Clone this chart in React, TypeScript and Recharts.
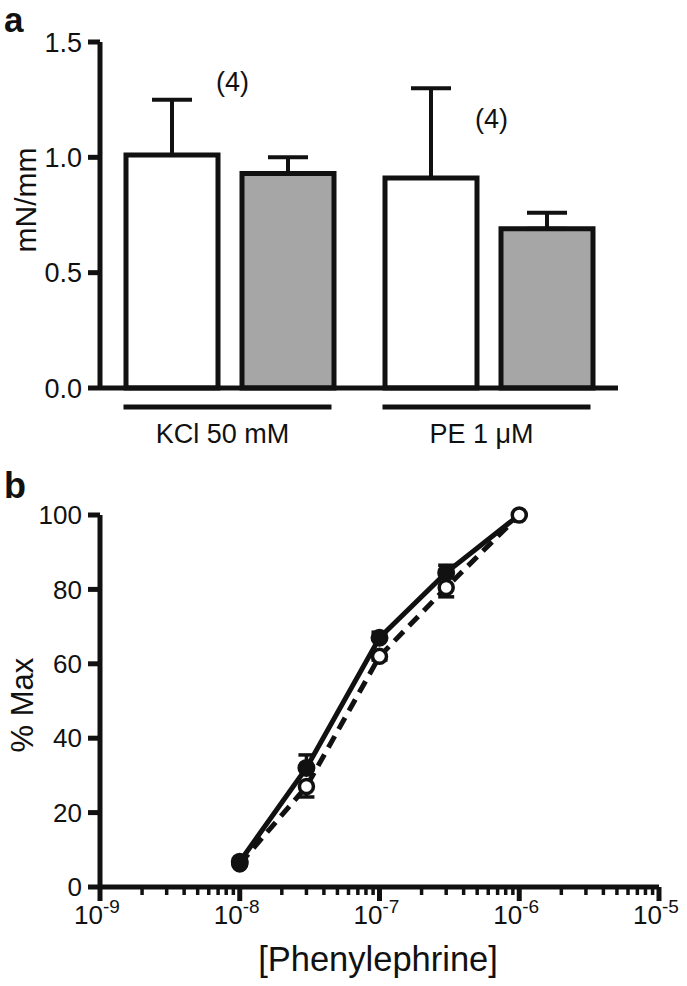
import React from 'react';
import {
  BarChart, Bar, XAxis, YAxis, ErrorBar, ReferenceDot,
  LineChart, Line,
} from 'recharts';

const FONT = '"Liberation Sans", Arial, Helvetica, sans-serif';
const INK = '#111';
const AXIS_W = 5;

// panel a: developed tension, control (open) vs treated (grey)
const groups = ['KCl 50 mM', 'PE 1 μM'];
const controlMean = [1.01, 0.91];
const controlSem = [0.24, 0.39];
const treatedMean = [0.93, 0.69];
const treatedSem = [0.07, 0.07];
const nLabels = ['(4)', '(4)'];
const nLabelY = [1.33, 1.17];
const forceTicks = [0, 0.5, 1.0, 1.5];

// panel b: phenylephrine concentration-response
const concentrations = [1e-8, 3e-8, 1e-7, 3e-7, 1e-6];
const filledMean = [6.8, 32, 67, 84.5, 100];
const filledSem = [0, 3.5, 1.5, 2, 0];
const openMean = [6.2, 27, 62, 80.5, 100];
const openSem = [0, 2.8, 1, 2.5, 0];
const pctTicks = [0, 20, 40, 60, 80, 100];
const decades = [1e-9, 1e-8, 1e-7, 1e-6, 1e-5];
const decadeExponents = ['-9', '-8', '-7', '-6', '-5'];
const minorSteps = [2, 3, 4, 5, 6, 7, 8, 9];

const barData = groups.map((g, i) => ({
  group: g,
  control: controlMean[i],
  controlErr: [0, controlSem[i]],
  treated: treatedMean[i],
  treatedErr: [0, treatedSem[i]],
}));

const filledData = concentrations.map((c, i) => ({ conc: c, value: filledMean[i], err: [0, filledSem[i]] }));
const openData = concentrations.map((c, i) => ({ conc: c, value: openMean[i], err: [openSem[i], 0] }));

const logTicks = decades.flatMap((d, i) => (i < decades.length - 1 ? [d, ...minorSteps.map(m => m * d)] : [d]));

const CategoryTick = (props: any) => {
  const { x, y, payload } = props;
  return (
    <g>
      <line x1={x - 106} x2={x + 102} y1={y + 19} y2={y + 19} stroke={INK} strokeWidth={AXIS_W} />
      <text x={x - 7} y={y + 55} textAnchor="middle" fill={INK} fontFamily={FONT} fontSize={27}>
        {payload.value}
      </text>
    </g>
  );
};

// major decades get a long tick and a 10^n label, the rest a short tick
const LogTick = (props: any) => {
  const { x, y, payload } = props;
  const idx = decades.findIndex(d => Math.abs(payload.value / d - 1) < 1e-6);
  if (idx < 0) {
    return <line x1={x} x2={x} y1={y} y2={y + 8} stroke={INK} strokeWidth={3.5} />;
  }
  return (
    <g>
      <line x1={x} x2={x} y1={y} y2={y + 14} stroke={INK} strokeWidth={AXIS_W} />
      <text x={x - 3} y={y + 37} textAnchor="middle" fill={INK} fontFamily={FONT} fontSize={26}>
        10
        <tspan dy={-11} fontSize={19}>{decadeExponents[idx]}</tspan>
      </text>
    </g>
  );
};

const tickStyleA = { fontSize: 27, fill: INK, fontFamily: FONT };
const tickStyleB = { fontSize: 26, fill: INK, fontFamily: FONT };

export default function App() {
  return (
    <div style={{ position: 'absolute', left: 0, top: 0, width: 687, height: 986, background: '#fff' }}>
      <div style={{ position: 'absolute', left: 0, top: 0 }}>
        <BarChart
          width={687}
          height={460}
          data={barData}
          margin={{ top: 42, right: 69, bottom: 0, left: 0 }}
          barSize={92}
          barGap={24}
        >
          <YAxis
            domain={[0, 1.5]}
            ticks={forceTicks}
            interval={0}
            tickFormatter={(v: number) => v.toFixed(1)}
            width={100}
            tick={tickStyleA}
            axisLine={{ stroke: INK, strokeWidth: AXIS_W }}
            tickLine={{ stroke: INK, strokeWidth: AXIS_W }}
            tickSize={12}
            tickMargin={6}
          />
          <XAxis
            dataKey="group"
            interval={0}
            height={72}
            tick={<CategoryTick />}
            tickLine={false}
            tickSize={0}
            tickMargin={0}
            axisLine={{ stroke: INK, strokeWidth: AXIS_W }}
          />
          <Bar dataKey="control" fill="#fff" stroke={INK} strokeWidth={5} isAnimationActive={false}>
            <ErrorBar dataKey="controlErr" direction="y" width={20} stroke={INK} strokeWidth={4} />
          </Bar>
          <Bar dataKey="treated" fill="#a6a6a6" stroke={INK} strokeWidth={5} isAnimationActive={false}>
            <ErrorBar dataKey="treatedErr" direction="y" width={20} stroke={INK} strokeWidth={4} />
          </Bar>
          {groups.map((g, i) => (
            <ReferenceDot
              key={g}
              x={g}
              y={nLabelY[i]}
              r={0}
              fill="none"
              stroke="none"
              ifOverflow="visible"
              label={{ value: nLabels[i], position: 'center', fill: INK, fontSize: 27, fontFamily: FONT, dx: 3 }}
            />
          ))}
        </BarChart>
      </div>

      <div style={{ position: 'absolute', left: 0, top: 470 }}>
        <LineChart width={687} height={516} margin={{ top: 45, right: 28, bottom: 0, left: 0 }}>
          <XAxis
            type="number"
            dataKey="conc"
            scale="log"
            domain={[1e-9, 1e-5]}
            allowDataOverflow
            ticks={logTicks}
            interval={0}
            height={99}
            tick={<LogTick />}
            tickLine={false}
            tickSize={0}
            tickMargin={0}
            axisLine={{ stroke: INK, strokeWidth: AXIS_W }}
          />
          <YAxis
            domain={[0, 100]}
            ticks={pctTicks}
            interval={0}
            width={100}
            tick={tickStyleB}
            axisLine={{ stroke: INK, strokeWidth: AXIS_W }}
            tickLine={{ stroke: INK, strokeWidth: AXIS_W }}
            tickSize={12}
            tickMargin={6}
          />
          <Line
            data={openData}
            dataKey="value"
            stroke={INK}
            strokeWidth={5}
            strokeDasharray="13 8"
            dot={{ r: 7, fill: '#fff', stroke: INK, strokeWidth: 3.5, strokeDasharray: 'none' }}
            activeDot={false}
            isAnimationActive={false}
          >
            <ErrorBar dataKey="err" direction="y" width={8} stroke={INK} strokeWidth={3.5} />
          </Line>
          <Line
            data={filledData}
            dataKey="value"
            stroke={INK}
            strokeWidth={5}
            dot={(p: any) =>
              p.index === concentrations.length - 1 ? (
                <g key={`fd-${p.index}`} />
              ) : (
                <circle key={`fd-${p.index}`} cx={p.cx} cy={p.cy} r={7.5} fill={INK} stroke={INK} strokeWidth={3} />
              )
            }
            activeDot={false}
            isAnimationActive={false}
          >
            <ErrorBar dataKey="err" direction="y" width={8} stroke={INK} strokeWidth={3.5} />
          </Line>
        </LineChart>
      </div>

      <svg width={687} height={986} style={{ position: 'absolute', left: 0, top: 0, pointerEvents: 'none' }}>
        <g fill={INK} fontFamily={FONT}>
          <text x={4} y={32} fontSize={35} fontWeight="bold">a</text>
          <text x={4} y={498} fontSize={36} fontWeight="bold">b</text>
          <text transform="translate(36,200) rotate(-90)" textAnchor="middle" fontSize={30}>mN/mm</text>
          <text transform="translate(33,705) rotate(-90)" textAnchor="middle" fontSize={31}>% Max</text>
          <text x={378} y={971} textAnchor="middle" fontSize={34.5}>[Phenylephrine]</text>
        </g>
      </svg>
    </div>
  );
}
